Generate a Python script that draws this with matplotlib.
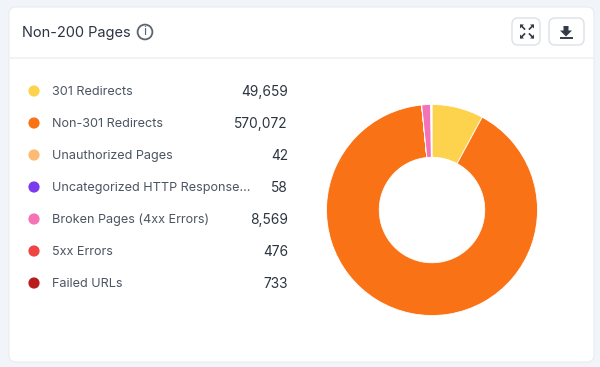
import matplotlib
matplotlib.use("Agg")
import matplotlib.pyplot as plt
from matplotlib.patches import FancyBboxPatch, Circle, Polygon

plt.rcParams['font.family'] = ['Inter', 'DejaVu Sans']

title = "Non-200 Pages"
categories = ["301 Redirects", "Non-301 Redirects", "Unauthorized Pages",
              "Uncategorized HTTP Response...", "Broken Pages (4xx Errors)",
              "5xx Errors", "Failed URLs"]
values = [49659, 570072, 42, 58, 8569, 476, 733]
colors = ["#FDD34D", "#F97316", "#FDBA74", "#7C3AED", "#F472B6", "#EF4444", "#B91C1C"]

W, H = 600, 367
fig = plt.figure(figsize=(W / 100, H / 100), dpi=100, facecolor="#F1F5F9")
bg = fig.add_axes([0, 0, 1, 1])
bg.set_xlim(0, W)
bg.set_ylim(H, 0)
bg.axis("off")

# card
bg.add_patch(FancyBboxPatch((9, 7), 585, 355, boxstyle="round,pad=0,rounding_size=7",
                            fc="white", ec="#E8ECF1", lw=0.8))
bg.plot([9, 594], [57.5, 57.5], color="#EEF1F5", lw=1.2)

# header
bg.text(22, 32.5, title, fontsize=10.5, color="#2B3440", va="center", ha="left")
bg.add_patch(Circle((145, 32), 7.4, fc="none", ec="#5B6470", lw=1.3))
bg.text(145, 32.2, "i", fontsize=9.5, color="#5B6470", va="center", ha="center")

# header buttons
for x0 in (512, 549):
    bg.add_patch(FancyBboxPatch((x0, 18), 28 if x0 == 512 else 35, 27,
                                boxstyle="round,pad=0,rounding_size=6",
                                fc="white", ec="#DDE1E6", lw=1))
# expand icon
cx, cy = 527, 31.5
for sx in (-1, 1):
    for sy in (-1, 1):
        bg.plot([cx + sx * 2.5, cx + sx * 6], [cy + sy * 2.5, cy + sy * 6], color="#333B47", lw=1.2)
        bg.add_patch(Polygon([(cx + sx * 7, cy + sy * 7), (cx + sx * 3, cy + sy * 7),
                              (cx + sx * 7, cy + sy * 3)], fc="#333B47", ec="none"))
# download icon
bg.add_patch(Polygon([(563.5, 26), (568.5, 26), (568.5, 30.5), (572, 30.5), (566, 36.5),
                      (560, 30.5), (563.5, 30.5)], fc="#333B47", ec="none"))
bg.plot([560.5, 571.5], [38, 38], color="#333B47", lw=1.4)

# legend
y0, step = 91, 32
for i, (c, v, col) in enumerate(zip(categories, values, colors)):
    y = y0 + i * step
    bg.add_patch(Circle((34, y), 5.6, fc=col, ec="none"))
    bg.text(52, y + 0.8, c, fontsize=9.12, color="#4B5563", va="center", ha="left")
    bg.text(288, y + 0.8, f"{v:,}", fontsize=9.9, color="#2B3440", va="center", ha="right")

# donut
cx, cy, R = 432, 210, 105.5
ax = fig.add_axes([(cx - R) / W, 1 - (cy + R) / H, 2 * R / W, 2 * R / H])
ax.pie(values, colors=colors, startangle=90, counterclock=False, radius=1,
       wedgeprops=dict(width=0.5, edgecolor="white", linewidth=0.6))
ax.set_xlim(-1, 1)
ax.set_ylim(-1, 1)
ax.set_aspect("equal")
ax.axis("off")

fig.savefig("out.png", dpi=100, facecolor=fig.get_facecolor())
